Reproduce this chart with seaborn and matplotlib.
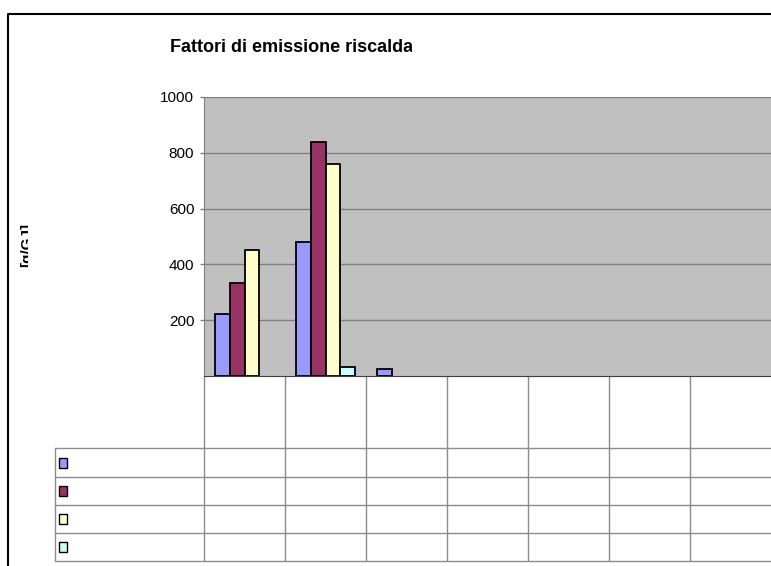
import pandas as pd
import seaborn as sns
import matplotlib.pyplot as plt
from matplotlib.patches import Rectangle
from matplotlib.transforms import Bbox

# chart data
categories = ["c1", "c2", "c3", "c4", "c5", "c6", "c7"]
series = ["s1", "s2", "s3", "s4"]
colors = ["#9999FF", "#993366", "#FFFFCC", "#CCFFFF"]
s1 = [224, 481, 24, None, None, None, None]
s2 = [332, 839, None, None, None, None, None]
s3 = [451, 759, None, None, None, None, None]
s4 = [None, 31, None, None, None, None, None]
yticks = [200, 400, 600, 800, 1000]
title = "Fattori di emissione riscaldamento"
ylabel = "[g/GJ]"

rows = []
for name, vals in zip(series, [s1, s2, s3, s4]):
    for cat, v in zip(categories, vals):
        if v is not None:
            rows.append({"cat": cat, "val": v, "serie": name})
df = pd.DataFrame(rows)

sns.set_style("white")
plt.rcParams["font.family"] = ["Liberation Sans", "DejaVu Sans"]
plt.rcParams["text.color"] = "black"
plt.rcParams["ytick.labelcolor"] = "black"

W, H = 771, 566
fig = plt.figure(figsize=(W / 100, H / 100), dpi=100)

# main plot area
ax = fig.add_axes([204 / W, (H - 376) / H, 567 / W, 279 / H])
ax.set_facecolor("#C0C0C0")
sns.barplot(data=df, x="cat", y="val", hue="serie", order=categories,
            hue_order=series, palette=colors, width=0.74, saturation=1,
            errorbar=None, edgecolor="black", linewidth=1.3, legend=False, ax=ax)
ax.set_ylim(0, 1000)
ax.set_xlim(-0.5, len(categories) - 0.5)
ax.set_yticks(yticks)
ax.set_yticklabels([str(t) for t in yticks], fontsize=11, color="black")
ax.set_xticks([])
ax.set_xlabel("")
ax.set_ylabel("")
ax.yaxis.grid(True, color="#808080", linewidth=1)
ax.set_axisbelow(True)
ax.tick_params(axis="y", direction="out", length=3, width=1, color="#808080", pad=4, left=True)
for side in ["top", "right"]:
    ax.spines[side].set_visible(False)
ax.spines["left"].set_color("#808080")
ax.spines["bottom"].set_color("#404040")

# data table lines below the plot
tbl_bottom = -(561 - 376) / 279
ax.vlines([i - 0.5 for i in range(len(categories))], tbl_bottom, 0,
          transform=ax.get_xaxis_transform(), colors="#8c8c8c", linewidth=1, clip_on=False)

over = fig.add_axes([0, 0, 1, 1])
over.set_xlim(0, W)
over.set_ylim(H, 0)
over.axis("off")
over.patch.set_visible(False)
for y in [448, 477, 505, 533, 561]:
    over.plot([55, W], [y, y], color="#8c8c8c", linewidth=1)
over.plot([55, 55], [448, 561], color="#8c8c8c", linewidth=1)
for cy, c in zip([463, 491, 519, 547], colors):
    over.add_patch(Rectangle((59, cy - 5), 8, 10, facecolor=c, edgecolor="black", linewidth=1))

# outer chart frame
over.plot([8, 8, W + 5], [H + 5, 14, 14], color="black", linewidth=1.5, clip_on=False)

# clipped title and axis title
t = fig.text(170 / W, 1 - 47 / H, title, fontsize=13, fontweight="bold", ha="left", va="center")
t.set_clip_box(Bbox.from_extents(0, 0, 412, H))
t.set_clip_on(True)
yl = fig.text(20 / W, 1 - 245 / H, ylabel, fontsize=11, fontweight="bold", rotation=90,
              ha="left", va="center")
yl.set_clip_box(Bbox.from_extents(0, 0, 28, H))
yl.set_clip_on(True)

fig.savefig("out.png", dpi=100)
